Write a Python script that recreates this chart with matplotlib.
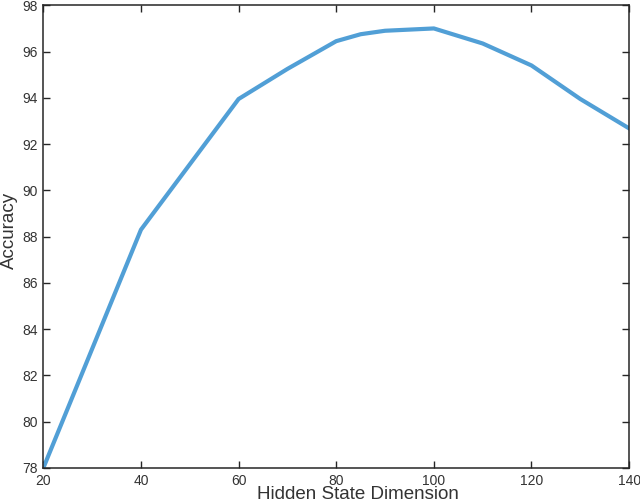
import matplotlib
matplotlib.use("Agg")
import matplotlib.pyplot as plt

hidden_dim = [20, 40, 60, 70, 80, 85, 90, 100, 110, 120, 130, 140]
accuracy = [78.0, 88.3, 93.95, 95.25, 96.45, 96.75, 96.9, 97.0, 96.35, 95.4, 93.95, 92.68]

x_ticks = [20, 40, 60, 80, 100, 120, 140]
y_ticks = [78, 80, 82, 84, 86, 88, 90, 92, 94, 96, 98]

LINE_COLOR = "#519fd6"
AXIS_COLOR = "#262626"

plt.rcParams.update({
    "font.family": ["Liberation Sans", "DejaVu Sans"],
    "font.size": 10,
})

fig = plt.figure(figsize=(6.4, 5.01), dpi=100)
ax = fig.add_axes([0.0677, 0.0659, 0.9153, 0.9235])

ax.plot(hidden_dim, accuracy, color=LINE_COLOR, linewidth=3.0, solid_joinstyle="round")

ax.set_xlim(20, 140)
ax.set_ylim(78, 98)
ax.set_xticks(x_ticks)
ax.set_yticks(y_ticks)

for s in ax.spines.values():
    s.set_color(AXIS_COLOR)
    s.set_linewidth(1.1)

ax.tick_params(direction="in", top=True, right=True, length=5, width=1.0,
               color=AXIS_COLOR, labelcolor="#333333", labelsize=10, pad=4)

# label sits slightly right of centre and runs off the bottom edge, as in the source
ax.set_xlabel("Hidden State Dimension", fontsize=13.5, color="#333333")
ax.xaxis.set_label_coords(0.537, -0.038)
ax.set_ylabel("Accuracy", fontsize=13.5, color="#333333")
ax.yaxis.set_label_coords(-0.043, 0.514)

fig.savefig("out.png", dpi=100)
